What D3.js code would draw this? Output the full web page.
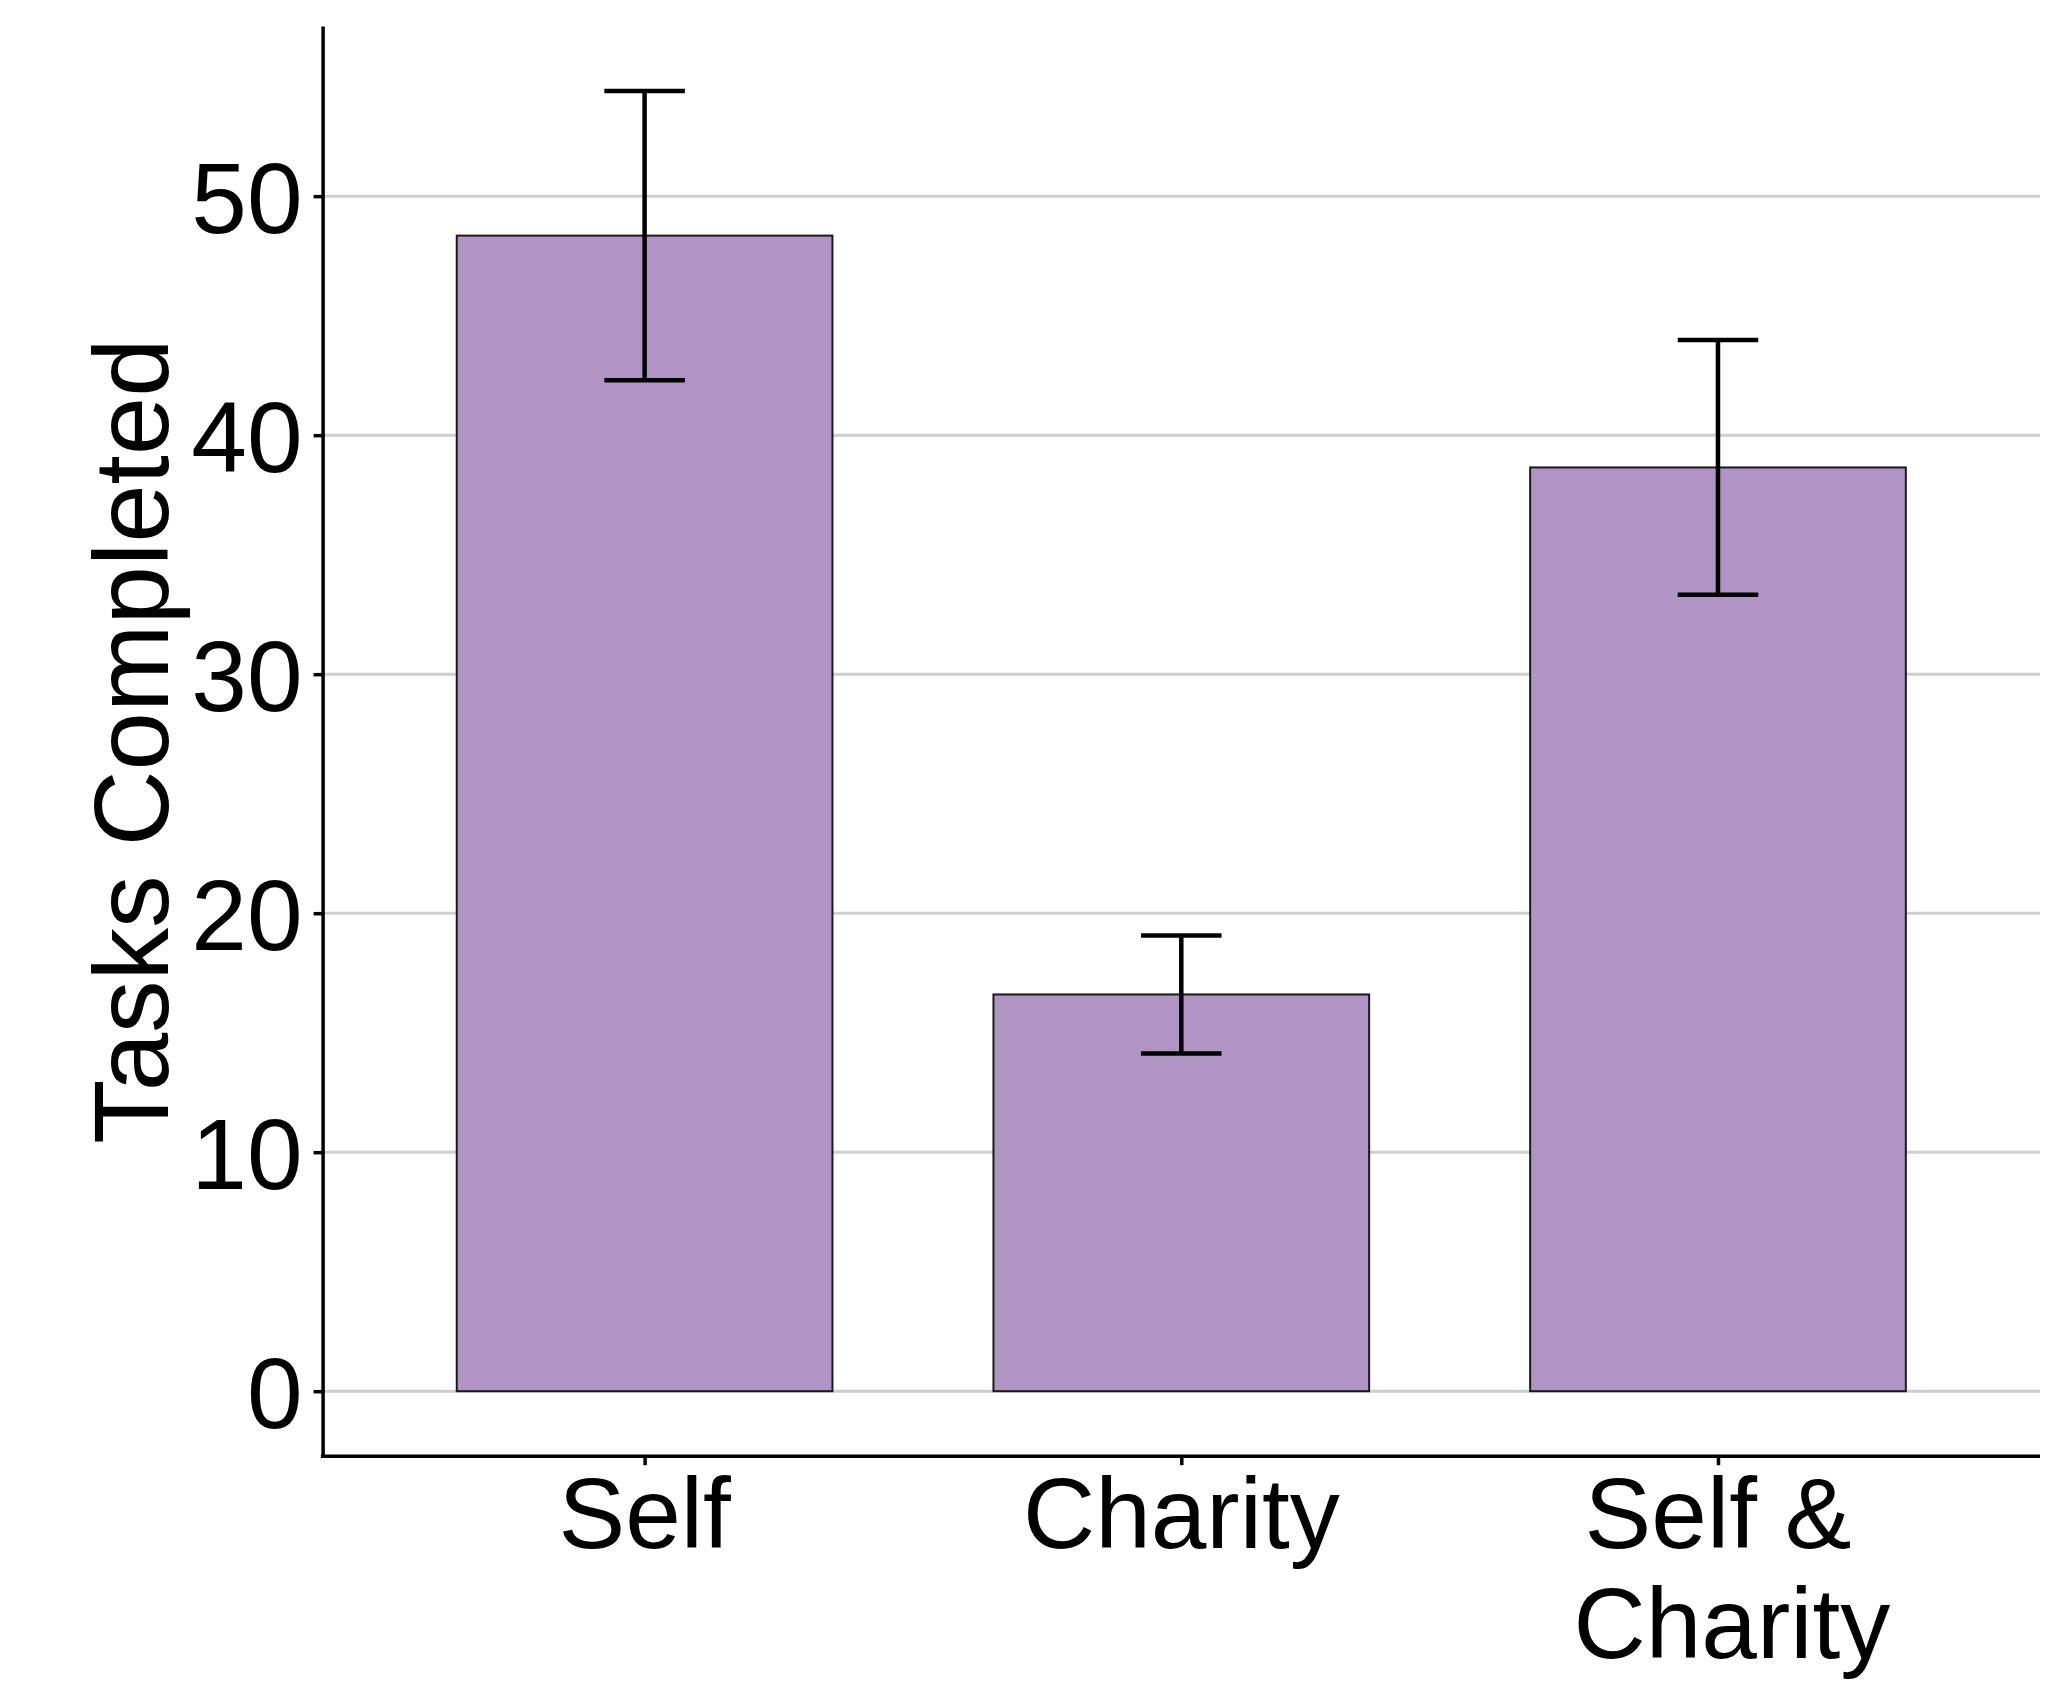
<!DOCTYPE html>
<html>
<head>
<meta charset="utf-8">
<script src="https://cdn.jsdelivr.net/npm/d3@7"></script>
<style>
  html, body { margin: 0; padding: 0; background: #ffffff; }
  svg { display: block; }
  .axis path, .axis line { stroke: #000000; }
  .axis text { font-family: "Liberation Sans", Arial, sans-serif; fill: #000000; }
</style>
</head>
<body>
<div id="chart"></div>
<script>
// values
var categories = ["Self", "Charity", "Self &\n Charity"];
var means      = [48.35, 16.6, 38.65];
var errors     = [6.05, 2.47, 5.33];
var yTicks     = [0, 10, 20, 30, 40, 50];

var gW = 2048, gH = 1681;
var gPlot = {left: 322.6, right: 2040, top: 26, bottom: 1456.2};
var gFont = '"Liberation Sans", Arial, sans-serif';

var lData = categories.map(function (c, i) {
  return {cat: c, mean: means[i], err: errors[i]};
});

var svg = d3.select("#chart").append("svg")
    .attr("width", gW)
    .attr("height", gH);

// x: discrete scale, 0.6 step of padding each side (ggplot style)
var x = d3.scalePoint()
    .domain(categories)
    .range([gPlot.left, gPlot.right])
    .padding(0.6);
var step = x.step();
var barW = step * 0.7;
var capW = step * 0.15;

// y: 5% expansion around 0 .. max(mean + err)
var yHi = d3.max(lData, function (d) { return d.mean + d.err; });
var yLo = 0;
var pad = (yHi - yLo) * 0.05;
var y = d3.scaleLinear()
    .domain([yLo - pad, yHi + pad])
    .range([gPlot.bottom, gPlot.top]);

// horizontal gridlines
svg.append("g")
    .selectAll("line")
    .data(yTicks)
  .enter().append("line")
    .attr("x1", gPlot.left)
    .attr("x2", gPlot.right)
    .attr("y1", function (d) { return y(d); })
    .attr("y2", function (d) { return y(d); })
    .attr("stroke", "#cfcfcf")
    .attr("stroke-width", 3);

// bars
svg.append("g")
    .selectAll("rect")
    .data(lData)
  .enter().append("rect")
    .attr("x", function (d) { return x(d.cat) - barW / 2; })
    .attr("y", function (d) { return y(d.mean); })
    .attr("width", barW)
    .attr("height", function (d) { return y(0) - y(d.mean); })
    .attr("fill", "#b094c4")
    .attr("stroke", "#1a1a1a")
    .attr("stroke-width", 2);

// error bars
var eb = svg.append("g")
    .selectAll("g")
    .data(lData)
  .enter().append("g")
    .attr("stroke", "#000000")
    .attr("stroke-width", 4.5);

eb.append("line")
    .attr("x1", function (d) { return x(d.cat); })
    .attr("x2", function (d) { return x(d.cat); })
    .attr("y1", function (d) { return y(d.mean - d.err); })
    .attr("y2", function (d) { return y(d.mean + d.err); });

eb.append("line")
    .attr("x1", function (d) { return x(d.cat) - capW / 2; })
    .attr("x2", function (d) { return x(d.cat) + capW / 2; })
    .attr("y1", function (d) { return y(d.mean + d.err); })
    .attr("y2", function (d) { return y(d.mean + d.err); });

eb.append("line")
    .attr("x1", function (d) { return x(d.cat) - capW / 2; })
    .attr("x2", function (d) { return x(d.cat) + capW / 2; })
    .attr("y1", function (d) { return y(d.mean - d.err); })
    .attr("y2", function (d) { return y(d.mean - d.err); });

// y axis
var yAxis = svg.append("g")
    .attr("class", "axis")
    .attr("transform", "translate(" + gPlot.left + ",0)")
    .call(d3.axisLeft(y).tickValues(yTicks).tickSize(9).tickPadding(11).tickSizeOuter(0));
yAxis.select(".domain").attr("stroke-width", 3.5);
yAxis.selectAll(".tick line").attr("stroke-width", 3.5);
yAxis.selectAll(".tick text")
    .attr("font-size", 100)
    .attr("dy", "0.36em");

// x axis
var xAxis = svg.append("g")
    .attr("class", "axis")
    .attr("transform", "translate(0," + gPlot.bottom + ")")
    .call(d3.axisBottom(x).tickSize(9).tickSizeOuter(0).tickFormat(""));
xAxis.select(".domain")
    .attr("d", "M" + (gPlot.left - 1.75) + ",0H" + gPlot.right)
    .attr("stroke-width", 3.5);
xAxis.selectAll(".tick line").attr("stroke-width", 3.5);

// x labels (multi-line)
var xl = svg.append("g")
    .selectAll("text")
    .data(categories)
  .enter().append("text")
    .attr("text-anchor", "middle")
    .attr("font-family", gFont)
    .attr("font-size", 100)
    .attr("fill", "#000000")
    .style("white-space", "pre")
    .attr("transform", function (d) { return "translate(" + x(d) + ",1548)"; });

xl.selectAll("tspan")
    .data(function (d) { return d.split("\n"); })
  .enter().append("tspan")
    .attr("x", 0)
    .attr("y", function (d, i) { return i * 110; })
    .text(function (d) { return d; });

// y title
svg.append("text")
    .attr("text-anchor", "middle")
    .attr("font-family", gFont)
    .attr("font-size", 105)
    .attr("fill", "#000000")
    .attr("transform", "translate(168," + ((gPlot.top + gPlot.bottom) / 2) + ") rotate(-90)")
    .text("Tasks Completed");
</script>
</body>
</html>
